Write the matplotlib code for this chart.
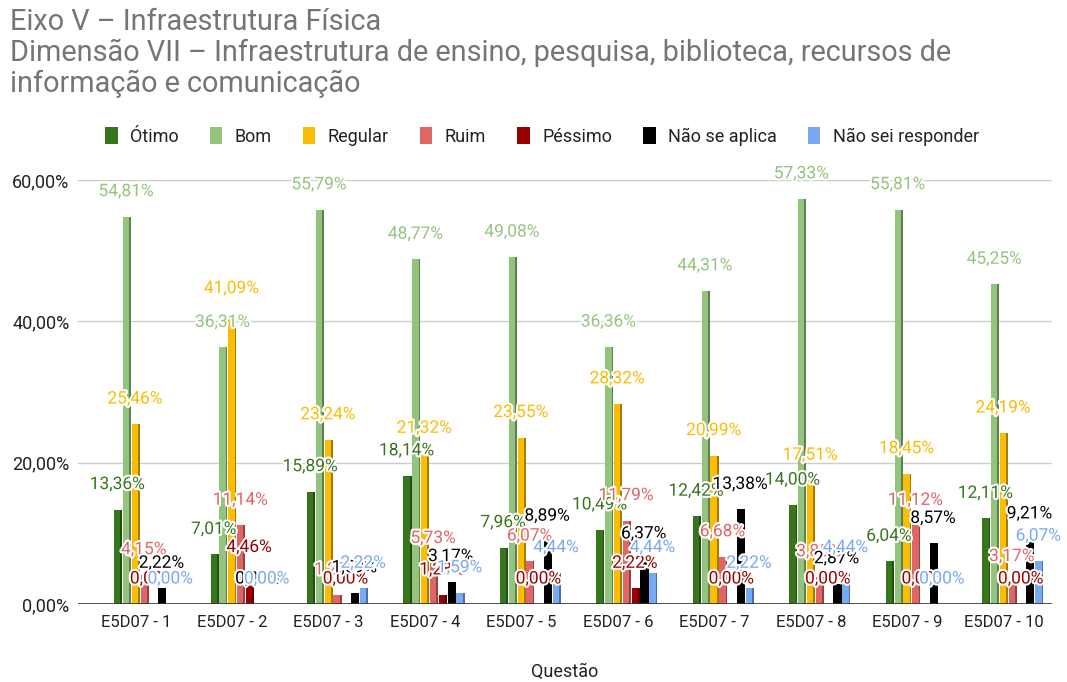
import numpy as np
import matplotlib
matplotlib.use("Agg")
from matplotlib import pyplot as plt
from matplotlib import patheffects as pe
from matplotlib import colors as mcolors
from matplotlib.patches import Patch

plt.rcParams['font.family'] = ['Roboto', 'DejaVu Sans']

questoes = ['E5D07 - 1', 'E5D07 - 2', 'E5D07 - 3', 'E5D07 - 4', 'E5D07 - 5',
            'E5D07 - 6', 'E5D07 - 7', 'E5D07 - 8', 'E5D07 - 9', 'E5D07 - 10']
series = ['Ótimo', 'Bom', 'Regular', 'Ruim', 'Péssimo', 'Não se aplica', 'Não sei responder']

otimo = [13.36, 7.01, 15.89, 18.14, 7.96, 10.49, 12.42, 14.00, 6.04, 12.11]
bom = [54.81, 36.31, 55.79, 48.77, 49.08, 36.36, 44.31, 57.33, 55.81, 45.25]
regular = [25.46, 41.09, 23.24, 21.32, 23.55, 28.32, 20.99, 17.51, 18.45, 24.19]
ruim = [4.15, 11.14, 1.27, 5.73, 6.07, 11.79, 6.68, 3.85, 11.12, 3.17]
pessimo = [0.00, 4.46, 0.00, 1.28, 0.00, 2.22, 0.00, 0.00, 0.00, 0.00]
nao_aplica = [2.22, 0.00, 1.59, 3.17, 8.89, 6.37, 13.38, 2.87, 8.57, 9.21]
nao_sei = [0.00, 0.00, 2.22, 1.59, 4.44, 4.44, 2.22, 4.44, 0.00, 6.07]

valores = [otimo, bom, regular, ruim, pessimo, nao_aplica, nao_sei]
cores = ['#38761d', '#93c47d', '#fbbc04', '#e06666', '#990000', '#000000', '#78a9f5']

fig = plt.figure(figsize=(10.67, 6.82), dpi=100)
ax = fig.add_axes([0.073, 0.1144, 0.913, 0.6217])

x = np.arange(len(questoes))
slot = 0.0915
face_w = 0.066
side_w = 0.022
shift = 0.083

for k, (nome, vals, cor) in enumerate(zip(series, valores, cores)):
    pos = x + shift + (k - 3) * slot
    lado = tuple(c * 0.65 for c in mcolors.to_rgb(cor))
    ax.bar(pos + face_w / 2 + side_w / 2 - 0.004, vals, width=side_w, color=lado, zorder=2)
    ax.bar(pos, vals, width=face_w, color=cor, zorder=3)
    for xi, v in zip(pos, vals):
        txt = ax.annotate(f"{v:.2f}%".replace('.', ','), (xi, v), xytext=(0, 18),
                          textcoords='offset points', ha='center', va='center',
                          fontsize=12.5, color=cor, zorder=5, annotation_clip=False)
        txt.set_path_effects([pe.withStroke(linewidth=3, foreground='white')])

ax.set_xlim(-0.6, 9.5)
ax.set_ylim(0, 60)
ax.set_yticks([0, 20, 40, 60])
ax.set_yticklabels(['0,00%', '20,00%', '40,00%', '60,00%'])
ax.set_xticks(x)
ax.set_xticklabels(questoes)
ax.tick_params(axis='both', length=0, colors='#222222')
ax.tick_params(axis='y', pad=6, labelsize=13)
ax.tick_params(axis='x', pad=8, labelsize=12)
ax.grid(axis='y', color='#cccccc', linewidth=1, zorder=0)
ax.axhline(0, color='#333333', linewidth=1.2, zorder=4)
for s in ax.spines.values():
    s.set_visible(False)
ax.set_xlabel('Questão', fontsize=13, color='#222222', labelpad=24)

fig.text(0.009, 0.988,
         'Eixo V – Infraestrutura Física\n'
         'Dimensão VII – Infraestrutura de ensino, pesquisa, biblioteca, recursos de\n'
         'informação e comunicação',
         ha='left', va='top', fontsize=20.8, color='#757575', linespacing=1.13)

handles = [Patch(facecolor=c, edgecolor='none') for c in cores]
fig.legend(handles, series, loc='center', bbox_to_anchor=(0.508, 0.80), ncol=7,
           frameon=False, fontsize=13, handlelength=0.7, handleheight=1.1,
           handletextpad=0.7, columnspacing=1.7, labelcolor='#222222')

fig.savefig('out.png', dpi=100)
